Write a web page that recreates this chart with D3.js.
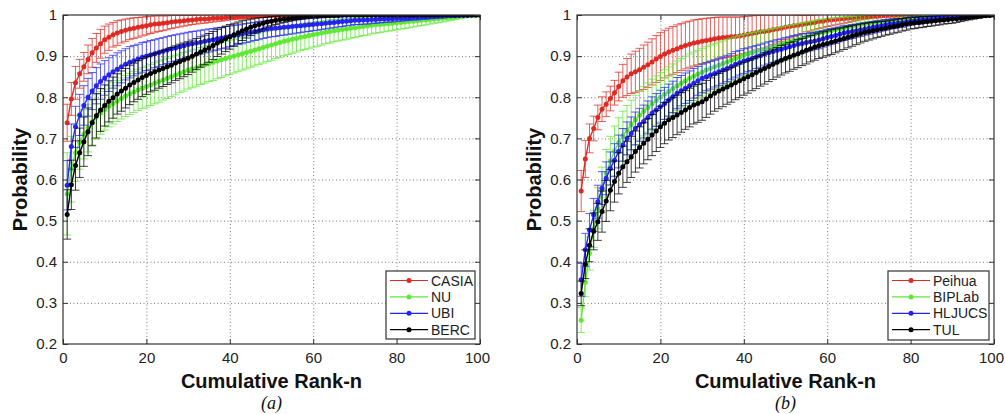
<!DOCTYPE html>
<html>
<head>
<meta charset="utf-8">
<script src="https://cdn.jsdelivr.net/npm/d3@7"></script>
<style>
  body { margin: 0; background: #fff; }
  svg { font-family: "Liberation Sans", Arial, sans-serif; }
  .grid line { stroke: #7a7a7a; stroke-dasharray: 1, 2.5; }
  .grid path { display: none; }
  .axis text { font-size: 15px; fill: #222; }
  .axis line, .axis path { stroke: #333; }
  .axis path { display: none; }
</style>
</head>
<body>
<svg id="chart" width="1005" height="414"></svg>
<script>
// Rank axis (1..100) and tick labels
const ranks = d3.range(1, 101);
const xTicks = [0, 20, 40, 60, 80, 100];
const yTicks = [0.2, 0.3, 0.4, 0.5, 0.6, 0.7, 0.8, 0.9, 1];

// ---- panel (a) ----
const namesA = ["CASIA", "NU", "UBI", "BERC"];

const casia = [
  .738, .796, .835, .857, .874, .892, .908, .920, .930, .940,
  .946, .952, .956, .960, .963, .966, .968, .970, .972, .974,
  .976, .978, .979, .980, .981, .983, .984, .985, .986, .987,
  .988, .989, .990, .990, .991, .992, .993, .993, .994, .995,
  .995, .996, .996, .997, .997, .998, .998, .998, .999, .999,
  .999, .999, 1, 1, 1, 1, 1, 1, 1, 1,
  1, 1, 1, 1, 1, 1, 1, 1, 1, 1,
  1, 1, 1, 1, 1, 1, 1, 1, 1, 1,
  1, 1, 1, 1, 1, 1, 1, 1, 1, 1,
  1, 1, 1, 1, 1, 1, 1, 1, 1, 1
];
const casiaErr = [
  .045, .04, .04, .035, .035, .035, .035, .035, .035, .033,
  .032, .03, .03, .028, .027, .026, .025, .024, .023, .022,
  .021, .02, .019, .018, .017, .016, .015, .014, .013, .012,
  .011, .011, .01, .01, .009, .009, .008, .008, .007, .007,
  .006, .006, .005, .005, .004, .004, .003, .003, .002, .002,
  .002, .001, .001, .001, 0, 0, 0, 0, 0, 0,
  0, 0, 0, 0, 0, 0, 0, 0, 0, 0,
  0, 0, 0, 0, 0, 0, 0, 0, 0, 0,
  0, 0, 0, 0, 0, 0, 0, 0, 0, 0,
  0, 0, 0, 0, 0, 0, 0, 0, 0, 0
];

const nu = [
  .565, .625, .665, .690, .710, .725, .740, .752, .762, .770,
  .778, .785, .791, .797, .803, .808, .813, .818, .822, .826,
  .830, .834, .838, .842, .846, .850, .854, .858, .862, .866,
  .869, .872, .876, .879, .882, .885, .888, .891, .894, .897,
  .900, .903, .906, .909, .912, .915, .918, .921, .924, .927,
  .930, .933, .936, .938, .941, .943, .946, .948, .950, .952,
  .954, .956, .958, .960, .962, .963, .965, .966, .968, .969,
  .971, .972, .973, .975, .976, .977, .978, .979, .980, .981,
  .982, .983, .984, .985, .986, .987, .988, .989, .990, .991,
  .992, .993, .994, .995, .996, .997, .998, .998, .999, 1
];
const nuErr = [
  .10, .08, .07, .065, .06, .058, .056, .054, .052, .05,
  .05, .05, .05, .05, .05, .05, .05, .05, .05, .05,
  .05, .05, .05, .049, .049, .048, .048, .047, .047, .046,
  .046, .045, .045, .045, .044, .044, .043, .043, .042, .042,
  .041, .041, .04, .04, .039, .039, .038, .038, .037, .037,
  .036, .036, .035, .034, .034, .033, .032, .032, .031, .03,
  .03, .029, .028, .028, .027, .026, .026, .025, .024, .024,
  .023, .022, .022, .021, .02, .02, .019, .018, .018, .017,
  .016, .016, .015, .014, .013, .013, .012, .011, .01, .01,
  .009, .008, .007, .006, .005, .004, .003, .002, .001, 0
];

const ubi = [
  .586, .680, .728, .757, .780, .800, .815, .828, .838, .847,
  .855, .862, .868, .874, .880, .885, .889, .893, .897, .900,
  .903, .906, .909, .912, .915, .918, .920, .923, .925, .928,
  .930, .932, .934, .936, .938, .940, .942, .944, .946, .948,
  .950, .952, .954, .956, .958, .960, .962, .964, .966, .967,
  .968, .969, .970, .971, .972, .973, .974, .975, .976, .977,
  .978, .979, .980, .981, .982, .983, .984, .985, .986, .987,
  .987, .988, .988, .989, .989, .990, .990, .991, .991, .992,
  .992, .993, .993, .994, .994, .995, .995, .996, .996, .997,
  .997, .998, .998, .998, .999, .999, .999, 1, 1, 1
];
const ubiErr = [
  .06, .055, .05, .05, .048, .046, .045, .044, .043, .042,
  .041, .04, .04, .039, .038, .038, .037, .036, .036, .035,
  .035, .034, .034, .033, .033, .032, .032, .031, .031, .03,
  .03, .029, .029, .028, .028, .027, .027, .026, .026, .025,
  .025, .024, .024, .023, .023, .022, .022, .021, .021, .02,
  .02, .019, .019, .018, .018, .017, .017, .016, .016, .015,
  .015, .014, .014, .013, .013, .012, .012, .011, .011, .01,
  .01, .01, .01, .009, .009, .009, .008, .008, .008, .007,
  .007, .007, .006, .006, .006, .005, .005, .005, .004, .004,
  .004, .003, .003, .003, .002, .002, .002, .001, .001, 0
];

const berc = [
  .515, .587, .634, .665, .692, .716, .738, .755, .769, .780,
  .790, .799, .808, .815, .822, .830, .836, .842, .848, .853,
  .858, .862, .866, .870, .874, .878, .883, .887, .891, .895,
  .900, .905, .910, .915, .920, .926, .932, .937, .942, .947,
  .952, .957, .962, .966, .970, .974, .977, .980, .983, .985,
  .987, .989, .990, .991, .992, .993, .994, .995, .996, .997,
  .997, .998, .998, .999, .999, .999, 1, 1, 1, 1,
  1, 1, 1, 1, 1, 1, 1, 1, 1, 1,
  1, 1, 1, 1, 1, 1, 1, 1, 1, 1,
  1, 1, 1, 1, 1, 1, 1, 1, 1, 1
];
const bercErr = [
  .06, .06, .06, .06, .06, .058, .056, .054, .052, .05,
  .05, .05, .049, .049, .048, .048, .047, .047, .046, .046,
  .045, .045, .044, .044, .043, .043, .042, .042, .041, .04,
  .039, .038, .037, .036, .035, .034, .033, .032, .031, .03,
  .028, .026, .024, .022, .02, .018, .016, .014, .012, .011,
  .01, .009, .008, .007, .006, .005, .004, .004, .003, .003,
  .002, .002, .002, .001, .001, .001, 0, 0, 0, 0,
  0, 0, 0, 0, 0, 0, 0, 0, 0, 0,
  0, 0, 0, 0, 0, 0, 0, 0, 0, 0,
  0, 0, 0, 0, 0, 0, 0, 0, 0, 0
];

// ---- panel (b) ----
const namesB = ["Peihua", "BIPLab", "HLJUCS", "TUL"];

const peihua = [
  .572, .650, .700, .724, .751, .771, .783, .797, .811, .826,
  .840, .849, .857, .862, .867, .873, .879, .886, .893, .899,
  .905, .910, .914, .918, .922, .926, .929, .932, .934, .936,
  .938, .940, .942, .944, .945, .946, .947, .948, .949, .951,
  .953, .955, .957, .959, .960, .962, .964, .966, .968, .970,
  .972, .974, .975, .977, .979, .980, .982, .984, .985, .987,
  .988, .989, .990, .991, .992, .993, .994, .995, .996, .996,
  .997, .997, .998, .998, .999, .999, .999, 1, 1, 1,
  1, 1, 1, 1, 1, 1, 1, 1, 1, 1,
  1, 1, 1, 1, 1, 1, 1, 1, 1, 1
];
const peihuaErr = [
  .05, .045, .035, .03, .03, .03, .03, .03, .03, .035,
  .04, .045, .048, .05, .052, .054, .055, .056, .057, .058,
  .058, .058, .058, .058, .057, .057, .056, .056, .055, .055,
  .054, .053, .052, .051, .05, .049, .048, .047, .046, .045,
  .044, .043, .042, .041, .04, .038, .036, .034, .032, .03,
  .028, .026, .024, .022, .02, .019, .018, .017, .016, .015,
  .014, .013, .012, .011, .01, .009, .008, .007, .006, .005,
  .004, .004, .003, .003, .002, .002, .001, .001, 0, 0,
  0, 0, 0, 0, 0, 0, 0, 0, 0, 0,
  0, 0, 0, 0, 0, 0, 0, 0, 0, 0
];

const biplab = [
  .258, .350, .420, .480, .530, .575, .615, .645, .670, .690,
  .706, .720, .733, .745, .756, .766, .775, .784, .792, .800,
  .807, .814, .821, .828, .834, .840, .846, .851, .856, .861,
  .866, .870, .874, .878, .882, .886, .890, .894, .898, .902,
  .905, .908, .911, .914, .917, .920, .923, .926, .929, .932,
  .935, .938, .941, .944, .947, .950, .953, .956, .958, .960,
  .962, .964, .966, .968, .970, .972, .974, .976, .978, .980,
  .982, .983, .984, .985, .986, .987, .988, .989, .990, .991,
  .992, .993, .994, .994, .995, .995, .996, .996, .997, .997,
  .998, .998, .998, .999, .999, .999, 1, 1, 1, 1
];
const biplabErr = [
  .03, .035, .04, .045, .05, .055, .058, .06, .06, .06,
  .06, .06, .06, .06, .06, .06, .06, .06, .06, .06,
  .06, .06, .06, .06, .06, .06, .059, .059, .058, .058,
  .057, .057, .056, .056, .055, .055, .054, .053, .052, .051,
  .05, .049, .048, .047, .046, .045, .044, .043, .042, .041,
  .04, .039, .038, .037, .036, .035, .034, .033, .032, .031,
  .03, .029, .028, .027, .026, .025, .024, .023, .022, .021,
  .02, .019, .018, .017, .016, .015, .014, .013, .012, .011,
  .01, .009, .009, .008, .008, .007, .007, .006, .006, .005,
  .005, .004, .004, .003, .003, .002, .002, .001, .001, 0
];

const hljucs = [
  .356, .429, .477, .514, .546, .579, .603, .627, .647, .668,
  .684, .700, .712, .724, .733, .741, .751, .761, .769, .777,
  .785, .793, .801, .810, .816, .822, .828, .834, .840, .846,
  .850, .854, .858, .862, .866, .870, .875, .880, .884, .888,
  .891, .894, .898, .901, .905, .908, .911, .914, .917, .920,
  .923, .926, .929, .931, .933, .935, .937, .939, .942, .945,
  .948, .950, .953, .956, .958, .960, .962, .964, .966, .968,
  .970, .972, .974, .976, .978, .979, .980, .981, .983, .985,
  .986, .987, .988, .989, .990, .991, .992, .993, .994, .995,
  .996, .996, .997, .997, .998, .998, .999, .999, 1, 1
];
const hljucsErr = [
  .04, .04, .04, .04, .04, .04, .04, .04, .04, .04,
  .04, .04, .04, .04, .04, .04, .04, .04, .04, .04,
  .039, .039, .038, .038, .037, .037, .036, .036, .035, .035,
  .034, .034, .033, .033, .032, .032, .031, .031, .03, .03,
  .029, .029, .028, .028, .027, .027, .026, .026, .025, .025,
  .024, .024, .023, .023, .022, .022, .021, .021, .02, .02,
  .019, .019, .018, .018, .017, .017, .016, .016, .015, .015,
  .014, .014, .013, .013, .012, .012, .011, .011, .01, .01,
  .009, .009, .008, .008, .007, .007, .006, .006, .005, .005,
  .004, .004, .003, .003, .002, .002, .001, .001, 0, 0
];

const tul = [
  .323, .394, .440, .474, .497, .522, .548, .574, .595, .615,
  .631, .643, .655, .668, .678, .688, .698, .708, .718, .728,
  .737, .745, .751, .757, .763, .769, .775, .781, .785, .789,
  .796, .803, .810, .815, .820, .825, .830, .835, .840, .845,
  .850, .855, .860, .865, .870, .875, .880, .885, .890, .894,
  .898, .902, .906, .910, .914, .918, .922, .925, .928, .931,
  .934, .937, .940, .943, .946, .949, .952, .955, .958, .960,
  .962, .964, .966, .968, .970, .972, .974, .976, .978, .980,
  .981, .982, .983, .984, .985, .986, .987, .988, .989, .990,
  .991, .992, .993, .994, .995, .996, .997, .998, .999, 1
];
const tulErr = [
  .03, .035, .04, .045, .045, .05, .05, .05, .05, .05,
  .05, .05, .05, .05, .05, .05, .05, .05, .05, .05,
  .05, .049, .049, .048, .048, .047, .047, .046, .046, .045,
  .045, .044, .044, .043, .043, .042, .042, .041, .041, .04,
  .04, .039, .039, .038, .038, .037, .037, .036, .036, .035,
  .035, .034, .034, .033, .033, .032, .032, .031, .031, .03,
  .03, .029, .028, .027, .026, .025, .024, .023, .022, .021,
  .02, .019, .018, .017, .017, .016, .016, .015, .015, .014,
  .014, .013, .013, .012, .012, .011, .011, .01, .01, .01,
  .009, .008, .007, .006, .005, .004, .003, .002, .001, 0
];

const colors = ["#dd2a22", "#5fe834", "#2424ee", "#000000"];

const svg = d3.select("#chart");

const panels = [
  { id: "a", left: 63, right: 480, names: namesA, values: [casia, nu, ubi, berc],
    errors: [casiaErr, nuErr, ubiErr, bercErr], caption: "(a)",
    legend: { x: 386, y: 271, w: 89, h: 68 } },
  { id: "b", left: 577, right: 994, names: namesB, values: [peihua, biplab, hljucs, tul],
    errors: [peihuaErr, biplabErr, hljucsErr, tulErr], caption: "(b)",
    legend: { x: 888, y: 271, w: 101, h: 69 } }
];

const plotTop = 15, plotBottom = 344;

panels.forEach(p => {
    const width = p.right - p.left,
          height = plotBottom - plotTop;

    const g = svg.append("g").attr("transform", `translate(${p.left},${plotTop})`);

    const x = d3.scaleLinear().domain([0, 100]).range([0, width]);
    const y = d3.scaleLinear().domain([0.2, 1]).range([height, 0]);

    // dotted grid
    g.append("g")
     .attr("class", "grid")
     .call(d3.axisLeft(y).tickValues(yTicks.slice(1, -1)).tickSize(-width).tickFormat(""));
    g.append("g")
     .attr("class", "grid")
     .attr("transform", `translate(0,${height})`)
     .call(d3.axisBottom(x).tickValues(xTicks.slice(1, -1)).tickSize(-height).tickFormat(""));

    // clip to axes box
    g.append("clipPath").attr("id", "clip-" + p.id)
     .append("rect").attr("width", width).attr("height", height);

    const plot = g.append("g").attr("clip-path", `url(#clip-${p.id})`);

    const cap = 4;
    const line = d3.line()
                   .x((d, i) => x(ranks[i]))
                   .y(d => y(d));

    p.values.forEach((vals, s) => {
        const errs = p.errors[s];
        const col = colors[s];
        const sg = plot.append("g");

        // error bars
        const eb = sg.append("g")
                     .attr("stroke", col)
                     .attr("stroke-width", 1)
                     .attr("stroke-opacity", 0.75);
        vals.forEach((v, i) => {
            const e = errs[i];
            if (e <= 0) return;
            const cx = x(ranks[i]);
            eb.append("line")
              .attr("x1", cx).attr("x2", cx)
              .attr("y1", y(v - e)).attr("y2", y(v + e));
            eb.append("line")
              .attr("x1", cx - cap).attr("x2", cx + cap)
              .attr("y1", y(v - e)).attr("y2", y(v - e));
            eb.append("line")
              .attr("x1", cx - cap).attr("x2", cx + cap)
              .attr("y1", y(v + e)).attr("y2", y(v + e));
        });

        // mean curve
        sg.append("path")
          .datum(vals)
          .attr("fill", "none")
          .attr("stroke", col)
          .attr("stroke-width", 1.4)
          .attr("d", line);

        sg.selectAll("circle")
          .data(vals)
          .enter()
          .append("circle")
          .attr("cx", (d, i) => x(ranks[i]))
          .attr("cy", d => y(d))
          .attr("r", 2.5)
          .attr("fill", col);
    });

    // axes with inward ticks (matlab style)
    g.append("g")
     .attr("class", "axis")
     .attr("transform", `translate(0,${height})`)
     .call(d3.axisBottom(x).tickValues(xTicks).tickSize(-5).tickPadding(8))
     .selectAll(".tick text")
     .filter(d => d === 100)
     .attr("dx", "-3");
    g.append("g")
     .attr("class", "axis")
     .call(d3.axisLeft(y).tickValues(yTicks).tickSize(-5).tickPadding(6)
             .tickFormat(d => d === 1 ? "1" : d3.format(".1f")(d)));
    g.append("g")
     .attr("class", "axis")
     .call(d3.axisTop(x).tickValues(xTicks).tickSize(-5).tickFormat(""));
    g.append("g")
     .attr("class", "axis")
     .attr("transform", `translate(${width},0)`)
     .call(d3.axisRight(y).tickValues(yTicks).tickSize(-5).tickFormat(""));

    g.append("rect")
     .attr("width", width).attr("height", height)
     .attr("fill", "none")
     .attr("stroke", "#333")
     .attr("stroke-width", 1.2);

    // legend
    const lg = svg.append("g").attr("transform", `translate(${p.legend.x},${p.legend.y})`);
    lg.append("rect")
      .attr("width", p.legend.w).attr("height", p.legend.h)
      .attr("fill", "#fff").attr("stroke", "#333").attr("stroke-width", 1.2);
    p.names.forEach((name, s) => {
        const ly = 9.5 + s * 16.4;
        lg.append("line")
          .attr("x1", 4).attr("x2", 42)
          .attr("y1", ly).attr("y2", ly)
          .attr("stroke", colors[s]).attr("stroke-width", 1.2);
        lg.append("circle")
          .attr("cx", 23).attr("cy", ly).attr("r", 2.5)
          .attr("fill", colors[s]);
        lg.append("text")
          .attr("x", 45).attr("y", ly)
          .attr("dy", "0.36em")
          .attr("font-size", "14px")
          .attr("fill", "#222")
          .text(name);
    });

    // axis labels and caption
    const midX = p.left + width / 2;
    svg.append("text")
       .attr("x", midX).attr("y", 388)
       .attr("text-anchor", "middle")
       .attr("font-size", "20px").attr("font-weight", "bold")
       .attr("fill", "#111")
       .text("Cumulative Rank-n");
    svg.append("text")
       .attr("transform", `translate(${p.left - 36},${plotTop + height / 2}) rotate(-90)`)
       .attr("text-anchor", "middle")
       .attr("font-size", "20px").attr("font-weight", "bold")
       .attr("fill", "#111")
       .text("Probability");
    svg.append("text")
       .attr("x", midX).attr("y", 409)
       .attr("text-anchor", "middle")
       .attr("font-family", "'Liberation Serif', 'DejaVu Serif', serif")
       .attr("font-style", "italic")
       .attr("font-size", "18px")
       .attr("fill", "#111")
       .text(p.caption);
});
</script>
</body>
</html>
